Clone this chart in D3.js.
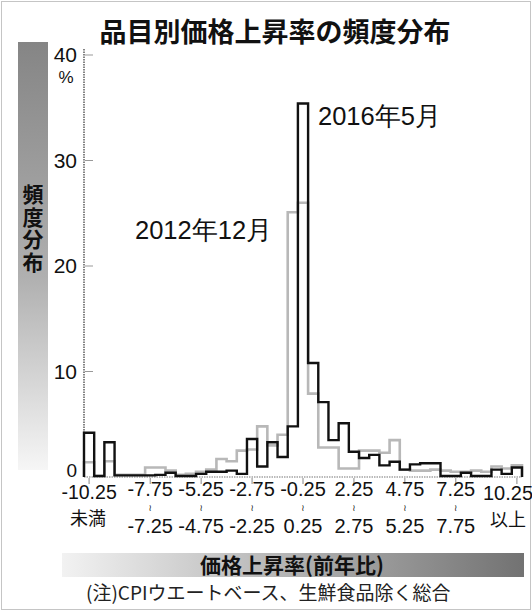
<!DOCTYPE html>
<html><head><meta charset="utf-8">
<script src="https://cdn.jsdelivr.net/npm/d3@7"></script>
<style>
html,body{margin:0;padding:0;background:#fff;}
svg{display:block;}
</style></head>
<body>
<script>
// ---- data ----
const categories = ["-10.25未満","-10.25~-9.75","-9.75~-9.25","-9.25~-8.75","-8.75~-8.25","-8.25~-7.75",
 "-7.75~-7.25","-7.25~-6.75","-6.75~-6.25","-6.25~-5.75","-5.75~-5.25","-5.25~-4.75","-4.75~-4.25",
 "-4.25~-3.75","-3.75~-3.25","-3.25~-2.75","-2.75~-2.25","-2.25~-1.75","-1.75~-1.25","-1.25~-0.75",
 "-0.75~-0.25","-0.25~0.25","0.25~0.75","0.75~1.25","1.25~1.75","1.75~2.25","2.25~2.75","2.75~3.25",
 "3.25~3.75","3.75~4.25","4.25~4.75","4.75~5.25","5.25~5.75","5.75~6.25","6.25~6.75","6.75~7.25",
 "7.25~7.75","7.75~8.25","8.25~8.75","8.75~9.25","9.25~9.75","9.75~10.25","10.25以上"];
const may2016 = [4.2,0.1,3.3,0.15,0.15,0.15,0.15,0.2,0.4,0.1,0.1,0.3,0.5,0.5,0.6,0.3,3.6,1.0,3.3,1.9,
 4.8,35.4,10.8,7.1,3.5,5.1,2.4,1.8,2.1,1.1,1.45,0.7,1.2,1.3,1.3,0.1,0.1,0.4,0.1,0.1,0.7,0.3,0.9];
const dec2012 = [1.4,0.1,1.5,0.2,0.2,0.2,0.9,0.9,0.6,0.2,0.3,0.5,0.7,1.7,1.5,2.5,2.6,4.8,3.0,4.0,
 25.1,26.0,7.9,2.8,2.8,0.8,0.8,2.5,2.5,2.3,3.5,0.7,0.6,0.6,0.7,0.6,0.5,0.5,0.6,0.5,1.0,0.8,1.1];
const yTicks = [0,10,20,30,40];
const tickBins = [0,6,11,16,21,26,31,36,42];
const xTop = ["-10.25","-7.75","-5.25","-2.75","-0.25","2.25","4.75","7.25","10.25"];
const xBottom = ["未満","-7.25","-4.75","-2.25","0.25","2.75","5.25","7.75","以上"];
const title = "品目別価格上昇率の頻度分布";
const seriesLabels = ["2016年5月","2012年12月"];

const W = 532, H = 611;
const JP = "'Noto Sans CJK JP','Noto Sans',sans-serif";
const NUM = "'Liberation Sans Narrow','Liberation Sans',Arial,sans-serif";

const svg = d3.select("body").append("svg").attr("width", W).attr("height", H);
const defs = svg.append("defs");
const g1 = defs.append("linearGradient").attr("id","vgrad").attr("x1",0).attr("y1",0).attr("x2",0).attr("y2",1);
g1.append("stop").attr("offset","0%").attr("stop-color","#858585");
g1.append("stop").attr("offset","55%").attr("stop-color","#b0b0b0");
g1.append("stop").attr("offset","100%").attr("stop-color","#f6f6f6");
const g2 = defs.append("linearGradient").attr("id","hgrad").attr("x1",0).attr("y1",0).attr("x2",1).attr("y2",0);
g2.append("stop").attr("offset","0%").attr("stop-color","#f2f2f2");
g2.append("stop").attr("offset","100%").attr("stop-color","#727272");

// frame
svg.append("rect").attr("x",1.5).attr("y",1.5).attr("width",W-3).attr("height",H-3)
  .attr("fill","none").attr("stroke","#8a8a8a").attr("stroke-width",1).attr("stroke-dasharray","1,1");

// title
svg.append("text").attr("x",275).attr("y",42).attr("text-anchor","middle")
  .attr("font-family",JP).attr("font-weight",700).attr("font-size",27).attr("fill","#111").text(title);

// left band with vertical label
svg.append("rect").attr("x",18).attr("y",42).attr("width",30).attr("height",428).attr("fill","url(#vgrad)");
svg.append("text").attr("x",33).attr("y",229).attr("text-anchor","middle")
  .style("writing-mode","vertical-rl").style("letter-spacing","1.5px")
  .attr("font-family",JP).attr("font-weight",700).attr("font-size",21).attr("fill","#111").text("頻度分布");

// scales
const x = d3.scaleBand().domain(d3.range(categories.length)).range([84,522]).padding(0);
const y = d3.scaleLinear().domain([0,40]).range([477,55]);

// y axis
svg.append("line").attr("x1",84).attr("x2",84).attr("y1",y(40)-6).attr("y2",y(0))
  .attr("stroke","#333").attr("stroke-width",1.2).attr("stroke-dasharray","1.5,1");
const yg = svg.append("g");
yg.selectAll("line").data(yTicks.filter(d=>d>0)).join("line")
  .attr("x1",85).attr("x2",93).attr("y1",d=>y(d)).attr("y2",d=>y(d)).attr("stroke","#999").attr("stroke-width",1);
yg.selectAll("text").data(yTicks).join("text")
  .attr("x",77).attr("y",d=>d===0 ? y(d)-0.5 : y(d)+7).attr("text-anchor","end")
  .attr("font-family",NUM).attr("font-size",d=>d===0?19:21).attr("fill","#111").text(d=>d);
svg.append("text").attr("x",66).attr("y",y(40)+28).attr("text-anchor","middle")
  .attr("font-family",NUM).attr("font-size",17).attr("fill","#111").text("%");

// x axis zero line
svg.append("line").attr("x1",84).attr("x2",522).attr("y1",y(0)).attr("y2",y(0))
  .attr("stroke","#777").attr("stroke-width",1.2).attr("stroke-dasharray","1.5,1");

// step lines
function stepPts(vals){
  const pts=[[x(0),y(0)]];
  vals.forEach((v,i)=>{pts.push([x(i),y(v)]);pts.push([x(i)+x.bandwidth(),y(v)]);});
  pts.push([x(vals.length-1)+x.bandwidth(),y(0)]);
  return pts;
}
const line = d3.line();
svg.append("path").attr("d",line(stepPts(dec2012))).attr("fill","none")
  .attr("stroke","#b8b8b8").attr("stroke-width",2.6).attr("stroke-linejoin","miter");
svg.append("path").attr("d",line(stepPts(may2016))).attr("fill","none")
  .attr("stroke","#111").attr("stroke-width",2.4).attr("stroke-linejoin","miter");

// x ticks
const last = tickBins.length-1;
const xg = svg.append("g");
xg.selectAll("line").data(tickBins).join("line")
  .attr("x1",d=>x(d)+x.bandwidth()/2).attr("x2",d=>x(d)+x.bandwidth()/2)
  .attr("y1",y(0)+1).attr("y2",y(0)+7).attr("stroke","#888").attr("stroke-width",1);
xg.selectAll("text.top").data(tickBins).join("text").attr("class","top")
  .attr("x",(d,i)=> i===last ? 508 : x(d)+x.bandwidth()/2)
  .attr("y",(d,i)=> i===last ? 500 : (i===0 ? 498.5 : 496))
  .attr("text-anchor","middle").attr("font-family",NUM).attr("font-size",(d,i)=> i===0?19.5:20).attr("fill","#111")
  .text((d,i)=>xTop[i]);
xg.selectAll("text.tl").data(tickBins.slice(1,-1)).join("text").attr("class","tl")
  .attr("x",d=>x(d)+x.bandwidth()/2).attr("y",511)
  .attr("text-anchor","middle").attr("font-family","'DejaVu Sans',sans-serif").attr("font-size",9).attr("fill","#111")
  .text("≀");
xg.selectAll("text.bot").data(tickBins).join("text").attr("class","bot")
  .attr("x",(d,i)=> i===last ? 508 : (i===0 ? 88 : x(d)+x.bandwidth()/2))
  .attr("y",(d,i)=> i===last ? 526 : (i===0 ? 525 : 533))
  .attr("text-anchor","middle")
  .attr("font-family",(d,i)=> (i===0||i===last)?JP:NUM)
  .attr("font-size",(d,i)=> (i===0||i===last)?18:20).attr("fill","#111")
  .text((d,i)=>xBottom[i]);

// series labels
svg.append("text").attr("x",318).attr("y",125).attr("font-family",NUM).attr("font-size",25.5).attr("fill","#111")
  .text(seriesLabels[0]);
svg.append("text").attr("x",135).attr("y",239).attr("font-family",NUM).attr("font-size",25.5).attr("fill","#111")
  .text(seriesLabels[1]);

// bottom band
svg.append("rect").attr("x",62).attr("y",553).attr("width",462).attr("height",24).attr("fill","url(#hgrad)");
svg.append("text").attr("x",292).attr("y",573).attr("text-anchor","middle")
  .attr("font-family",JP).attr("font-weight",700).attr("font-size",21).attr("fill","#111").text("価格上昇率(前年比)");

// note
svg.append("text").attr("x",86).attr("y",600)
  .attr("font-family",JP).attr("font-size",19).attr("fill","#222").text("(注)CPIウエートベース、生鮮食品除く総合");
</script>
</body></html>
